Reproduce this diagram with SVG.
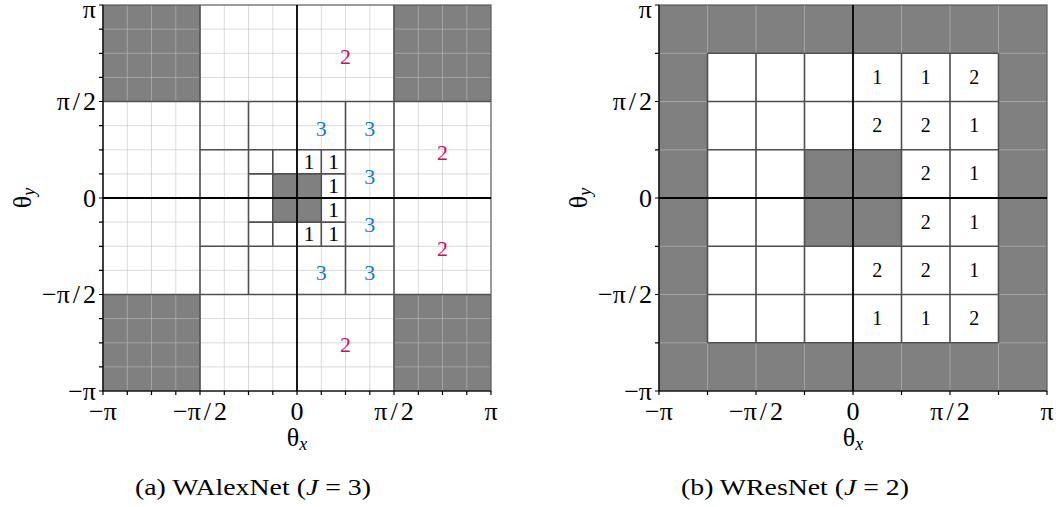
<svg xmlns="http://www.w3.org/2000/svg" width="1063" height="507" viewBox="0 0 1063 507">
<style>
text{font-family:"Liberation Serif","Times New Roman",serif;fill:#000}
.tk{font-size:26px}
.num{font-size:22px;text-anchor:middle}
.numr{font-size:20px;text-anchor:middle}
.m{fill:#d5076d}
.b{fill:#1b74d3}
.cap{font-size:24px;text-anchor:middle}
.grid{stroke:#bfbfbf;stroke-opacity:0.55;stroke-width:1;fill:none}
.part{stroke:#4f4f4f;stroke-width:1.6;fill:none}
.axis{stroke:#000;stroke-width:1.8;fill:none}
.frame{stroke:#5a5a5a;stroke-width:1.2;fill:none}
.spine{stroke:#000;stroke-width:1.2;fill:none}
.gray{fill:#808080}
</style>

<g id="plot-a">
  <rect x="103" y="5" width="388" height="386" fill="#fff"/>
  <g id="a-gray">
    <rect class="gray" x="103" y="5" width="97" height="96.5"/>
    <rect class="gray" x="394" y="5" width="97" height="96.5"/>
    <rect class="gray" x="103" y="294.5" width="97" height="96.5"/>
    <rect class="gray" x="394" y="294.5" width="97" height="96.5"/>
    <rect class="gray" x="272.8" y="173.9" width="48.5" height="48.2"/>
  </g>
  <path class="grid" d="M127.3 5V391M151.5 5V391M175.8 5V391M200 5V391M224.3 5V391M248.5 5V391M272.8 5V391M297 5V391M321.3 5V391M345.5 5V391M369.8 5V391M394 5V391M418.3 5V391M442.5 5V391M466.8 5V391
  M103 29.1H491M103 53.3H491M103 77.4H491M103 101.5H491M103 125.6H491M103 149.8H491M103 173.9H491M103 198H491M103 222.1H491M103 246.3H491M103 270.4H491M103 294.5H491M103 318.6H491M103 342.8H491M103 366.9H491"/>
  <path class="part" d="M200 5V391M394 5V391M103 101.5H491M103 294.5H491
  M248.5 101.5V294.5M345.5 101.5V294.5M200 149.8H394M200 246.3H394
  M272.8 149.8V246.3M321.3 149.8V246.3M248.5 173.9H345.5M248.5 222.1H345.5"/>
  <rect class="frame" x="103" y="5" width="388" height="386"/>
  <path class="axis" d="M297 5V391M103 198H491"/>
  <path class="spine" d="M103 5V391H491
  M99 5H103M99 29.1H103M99 53.3H103M99 77.4H103M99 101.5H103M99 125.6H103M99 149.8H103M99 173.9H103M99 198H103M99 222.1H103M99 246.3H103M99 270.4H103M99 294.5H103M99 318.6H103M99 342.8H103M99 366.9H103M99 391H103
  M103 391V395M127.3 391V395M151.5 391V395M175.8 391V395M200 391V395M224.3 391V395M248.5 391V395M272.8 391V395M297 391V395M321.3 391V395M345.5 391V395M369.8 391V395M394 391V395M418.3 391V395M442.5 391V395M466.8 391V395M491 391V395"/>
  <g id="a-labels">
    <text class="num m" x="345.5" y="64">2</text>
    <text class="num m" x="442.5" y="160">2</text>
    <text class="num m" x="442.5" y="256">2</text>
    <text class="num m" x="345.5" y="352">2</text>
    <text class="num b" x="321.3" y="136">3</text>
    <text class="num b" x="369.8" y="136">3</text>
    <text class="num b" x="369.8" y="184">3</text>
    <text class="num b" x="369.8" y="232">3</text>
    <text class="num b" x="321.3" y="280">3</text>
    <text class="num b" x="369.8" y="280">3</text>
    <text class="num" x="309" y="169">1</text>
    <text class="num" x="333.4" y="169">1</text>
    <text class="num" x="333.4" y="193">1</text>
    <text class="num" x="333.4" y="217">1</text>
    <text class="num" x="309" y="241">1</text>
    <text class="num" x="333.4" y="241">1</text>
  </g>
  <g id="a-yticks" class="tk" text-anchor="end">
    <text x="96" y="18">π</text>
    <text x="96" y="110">π<tspan dx="3">/</tspan><tspan dx="3">2</tspan></text>
    <text x="96" y="207">0</text>
    <text x="96" y="303">−π<tspan dx="3">/</tspan><tspan dx="3">2</tspan></text>
    <text x="96" y="400">−π</text>
  </g>
  <g id="a-xticks" class="tk" text-anchor="middle">
    <text x="103" y="420">−π</text>
    <text x="200" y="420">−π<tspan dx="3">/</tspan><tspan dx="3">2</tspan></text>
    <text x="297" y="420">0</text>
    <text x="394" y="420">π<tspan dx="3">/</tspan><tspan dx="3">2</tspan></text>
    <text x="491" y="420">π</text>
  </g>
  <text class="tk" x="297" y="446" text-anchor="middle">θ<tspan font-style="italic" font-size="18" dy="4">x</tspan></text>
  <text class="tk" x="31" y="198" text-anchor="middle" transform="rotate(-90 31 198)">θ<tspan font-style="italic" font-size="18" dy="4">y</tspan></text>
  <text class="cap" x="253" y="495" textLength="236" lengthAdjust="spacingAndGlyphs">(a) WAlexNet (<tspan font-style="italic">J</tspan> = 3)</text>
</g>

<g id="plot-b">
  <rect class="gray" x="659" y="5" width="388" height="386"/>
  <rect x="707.5" y="53.3" width="291" height="289.5" fill="#fff"/>
  <rect class="gray" x="804.5" y="149.8" width="97" height="96.5"/>
  <path class="grid" d="M707.5 5V391M756 5V391M804.5 5V391M853 5V391M901.5 5V391M950 5V391M998.5 5V391
  M659 53.3H1047M659 101.5H1047M659 149.8H1047M659 198H1047M659 246.3H1047M659 294.5H1047M659 342.8H1047"/>
  <path class="part" d="M707.5 53.3V342.8M756 53.3V342.8M804.5 53.3V342.8M901.5 53.3V342.8M950 53.3V342.8M998.5 53.3V342.8
  M707.5 53.3H998.5M707.5 101.5H998.5M707.5 149.8H998.5M707.5 246.3H998.5M707.5 294.5H998.5M707.5 342.8H998.5"/>
  <rect class="frame" x="659" y="5" width="388" height="386"/>
  <path class="axis" d="M853 5V391M659 198H1047"/>
  <path class="spine" d="M659 5V391H1047
  M655 5H659M655 53.3H659M655 101.5H659M655 149.8H659M655 198H659M655 246.3H659M655 294.5H659M655 342.8H659M655 391H659
  M659 391V395M707.5 391V395M756 391V395M804.5 391V395M853 391V395M901.5 391V395M950 391V395M998.5 391V395M1047 391V395"/>
  <g id="b-labels">
    <text class="numr" x="877.3" y="84">1</text>
    <text class="numr" x="925.8" y="84">1</text>
    <text class="numr" x="974.3" y="84">2</text>
    <text class="numr" x="877.3" y="132">2</text>
    <text class="numr" x="925.8" y="132">2</text>
    <text class="numr" x="974.3" y="132">1</text>
    <text class="numr" x="925.8" y="180">2</text>
    <text class="numr" x="974.3" y="180">1</text>
    <text class="numr" x="925.8" y="229">2</text>
    <text class="numr" x="974.3" y="229">1</text>
    <text class="numr" x="877.3" y="277">2</text>
    <text class="numr" x="925.8" y="277">2</text>
    <text class="numr" x="974.3" y="277">1</text>
    <text class="numr" x="877.3" y="325">1</text>
    <text class="numr" x="925.8" y="325">1</text>
    <text class="numr" x="974.3" y="325">2</text>
  </g>
  <g id="b-yticks" class="tk" text-anchor="end">
    <text x="652" y="18">π</text>
    <text x="652" y="110">π<tspan dx="3">/</tspan><tspan dx="3">2</tspan></text>
    <text x="652" y="207">0</text>
    <text x="652" y="303">−π<tspan dx="3">/</tspan><tspan dx="3">2</tspan></text>
    <text x="652" y="400">−π</text>
  </g>
  <g id="b-xticks" class="tk" text-anchor="middle">
    <text x="659" y="420">−π</text>
    <text x="756" y="420">−π<tspan dx="3">/</tspan><tspan dx="3">2</tspan></text>
    <text x="853" y="420">0</text>
    <text x="950" y="420">π<tspan dx="3">/</tspan><tspan dx="3">2</tspan></text>
    <text x="1047" y="420">π</text>
  </g>
  <text class="tk" x="853" y="446" text-anchor="middle">θ<tspan font-style="italic" font-size="18" dy="4">x</tspan></text>
  <text class="tk" x="587" y="198" text-anchor="middle" transform="rotate(-90 587 198)">θ<tspan font-style="italic" font-size="18" dy="4">y</tspan></text>
  <text class="cap" x="795" y="495" textLength="228" lengthAdjust="spacingAndGlyphs">(b) WResNet (<tspan font-style="italic">J</tspan> = 2)</text>
</g>
</svg>
